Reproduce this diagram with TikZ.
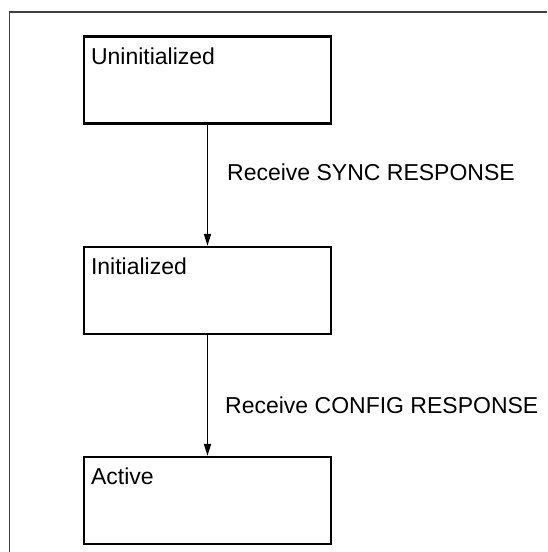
\documentclass[tikz,border=0pt]{standalone}
\usepackage{fontspec}
\setmainfont{Liberation Sans}
\usetikzlibrary{arrows.meta}
\tikzset{
  state/.style={draw, line width=2.3pt, minimum width=247pt, minimum height=87pt, inner sep=0pt},
  statename/.style={anchor=north west, inner sep=0pt, xshift=8pt, yshift=-12pt},
  trans/.style={-{Triangle[length=12pt,width=7pt]}, line width=1.6pt},
  event/.style={anchor=base west, inner sep=0pt}
}
\begin{document}
\begin{tikzpicture}[x=1pt,y=1pt,font=\fontsize{23}{27}\selectfont]
      \useasboundingbox (0,0) rectangle (547,-552);
      \draw[line width=1.6pt, black!75] (547,-12) -- (9.5,-12) -- (9.5,-552);
      \draw
        (207.5,-80) node[state, label={[statename]north west:Uninitialized}] (uninit){}
        (207.5,-290.5) node[state, label={[statename]north west:Initialized}] (init){}
        (207.5,-500.5) node[state, label={[statename]north west:Active}] (active){};
      \node[event] (sync) at (227,-180) {Receive SYNC RESPONSE};
      \node[event] (config) at (225,-413) {Receive CONFIG RESPONSE};
      \begin{scope}[trans]
        \draw (uninit) to (init);
        \draw (init) to (active);
      \end{scope}
    \end{tikzpicture}
\end{document}
